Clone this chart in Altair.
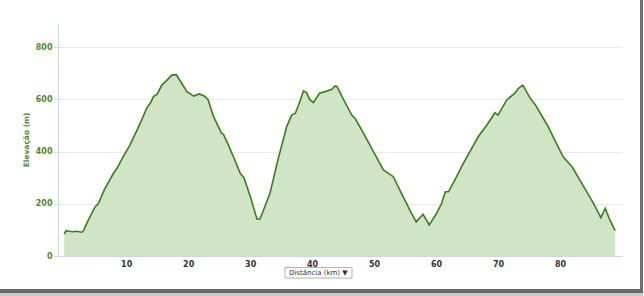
import altair as alt
import pandas as pd

km = [0.0, 0.3, 0.8, 1.4, 2.0, 2.85, 3.1, 4.0, 5.0, 5.5, 6.5, 7.95, 8.5, 9.5, 10.6,
      12.0, 13.3, 14.0, 14.4, 15.0, 15.75, 16.5, 17.4, 18.1, 19.0, 19.8, 20.9, 21.8,
      22.6, 23.2, 24.1, 25.4, 25.7, 26.5, 27.5, 28.4, 29.0, 30.0, 31.1, 31.6, 33.2,
      34.5, 35.9, 36.7, 37.3, 38.0, 38.6, 39.1, 39.6, 40.2, 41.2, 42.1, 43.2, 43.7,
      44.0, 45.1, 46.4, 47.0, 48.3, 49.9, 51.5, 53.1, 54.7, 56.0, 56.8, 57.9, 58.9,
      60.0, 60.9, 61.5, 62.0, 63.0, 64.4, 66.8, 68.2, 69.5, 70.0, 71.4, 72.7, 73.3,
      74.0, 75.2, 76.0, 77.3, 78.0, 80.5, 82.0, 83.2, 85.4, 86.6, 87.3, 88.0, 88.9]
elev = [84, 97, 95, 93, 95, 91, 97, 143, 189, 200, 255, 317, 335, 380, 425,
        495, 566, 590, 611, 620, 655, 672, 694, 694, 660, 630, 613, 621,
        613, 600, 534, 470, 466, 425, 370, 317, 300, 230, 142, 142, 240,
        370, 496, 540, 547, 590, 633, 626, 600, 588, 624, 630, 639, 652,
        650, 598, 540, 525, 470, 400, 330, 304, 227, 165, 131, 160, 119,
        160, 202, 246, 246, 290, 355, 457, 502, 549, 540, 598, 624, 643,
        655, 604, 580, 528, 500, 380, 340, 291, 202, 147, 183, 140, 97]
x_ticks = [10, 20, 30, 40, 50, 60, 70, 80]
y_ticks = [0, 200, 400, 600, 800]
x_title = "Distância (km)"

df = pd.DataFrame({"km": km, "elev": elev})
one = pd.DataFrame({"t": [x_title + "   ▼"]})

W, H = 564, 233
FONT = "DejaVu Sans"

xenc = alt.X("km:Q", scale=alt.Scale(domain=[-1, 90], nice=False, zero=False),
             axis=alt.Axis(values=x_ticks, title=None, grid=False, ticks=False,
                           domainColor="#ccd6eb", labelFont=FONT, labelFontSize=8,
                           labelFontWeight="bold", labelColor="#333333",
                           labelPadding=4, labelFlush=False))
yenc = alt.Y("elev:Q", scale=alt.Scale(domain=[0, 893], nice=False),
             axis=alt.Axis(values=y_ticks, title="Elevação (m)", grid=True,
                           gridColor="#e9e9e9", domainColor="#ccd6eb",
                           tickColor="#ccd6eb", tickSize=4, labelFont=FONT,
                           labelFontSize=8, labelFontWeight="bold",
                           labelColor="#4e8a2e", labelPadding=2,
                           titleFont=FONT, titleFontSize=7.5, titleFontWeight="bold",
                           titleColor="#4e8a2e", titleX=-32, titleY=H / 2,
                           titleAngle=-90, titleAlign="center", titleBaseline="middle"))

area = alt.Chart(df).mark_area(color="#cfe5c5", opacity=1).encode(x=xenc, y=yenc)
line = alt.Chart(df).mark_line(color="#3a7d1e", strokeWidth=1.6).encode(x="km:Q", y="elev:Q")

box = alt.Chart(one).mark_rect(fill="white", stroke="#b0b0b0", strokeWidth=1).encode(
    x=alt.value(227), x2=alt.value(294), y=alt.value(244.5), y2=alt.value(255))
label = alt.Chart(one).mark_text(font=FONT, fontSize=7, color="#333333",
                                 align="left", baseline="middle").encode(
    x=alt.value(231), y=alt.value(250), text="t:N")

shadow_r = alt.Chart(one).mark_rule(color="#707070", strokeWidth=3).encode(
    x=alt.value(583.5), y=alt.value(-23), y2=alt.value(270))
shadow_b = alt.Chart(one).mark_rule(color="#6a6a6a", strokeWidth=4).encode(
    x=alt.value(-58), x2=alt.value(585), y=alt.value(268))
shadow_b2 = alt.Chart(one).mark_rule(color="#c8c8c8", strokeWidth=3).encode(
    x=alt.value(-58), x2=alt.value(585), y=alt.value(271.5))

chart = alt.layer(area, line, box, label, shadow_r, shadow_b, shadow_b2).properties(
    width=W, height=H,
    padding={"left": 58, "top": 23, "right": 22, "bottom": 40},
    autosize=alt.AutoSizeParams(type="none"),
).configure_view(stroke=None)

chart.save("out.html", embed_options={"renderer": "svg", "actions": False})
